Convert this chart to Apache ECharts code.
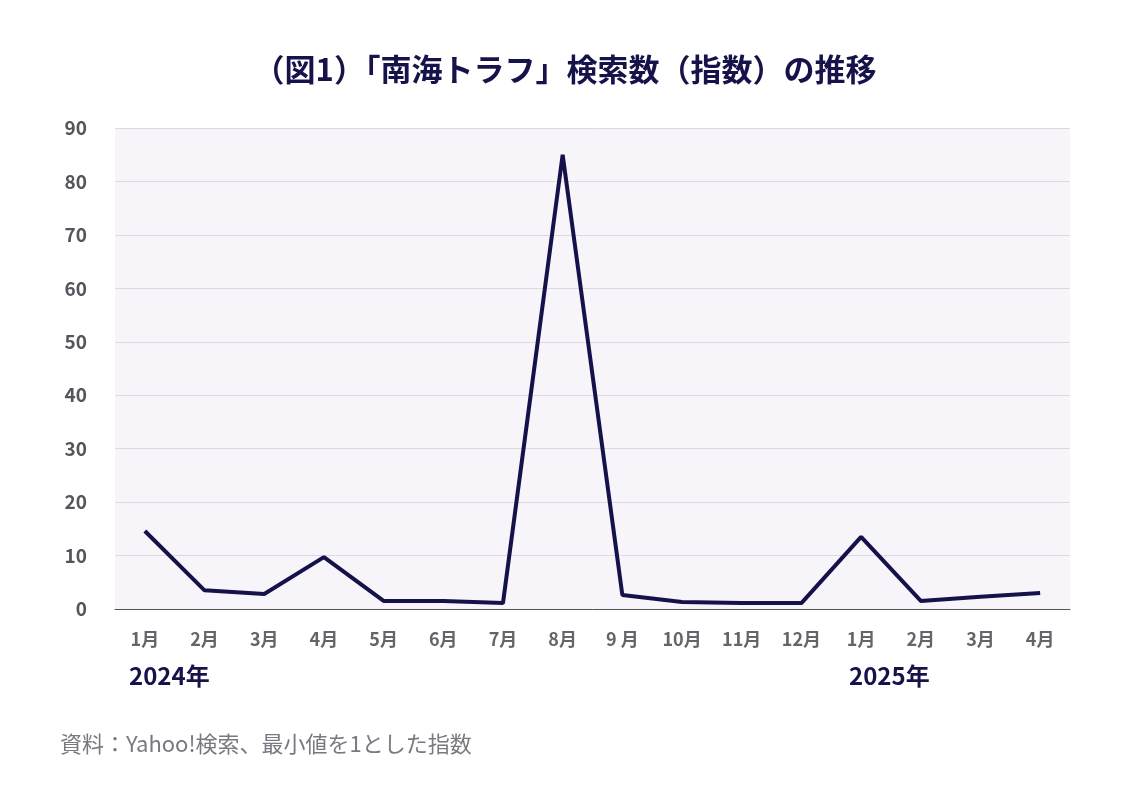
<!DOCTYPE html>
<html>
<head>
<meta charset="utf-8">
<script src="https://cdn.jsdelivr.net/npm/echarts@6/dist/echarts.min.js"></script>
<style>
html, body { margin: 0; padding: 0; background: #fff; }
#main { width: 1130px; height: 800px; }
</style>
</head>
<body>
<div id="main"></div>
<script>
// 月ラベル（2024年1月〜2025年4月）
var months = ['1月', '2月', '3月', '4月', '5月', '6月', '7月', '8月', '9 月', '10月', '11月', '12月', '1月', '2月', '3月', '4月'];
// 検索数（指数）
var searchIndex = [14.6, 3.5, 2.8, 9.7, 1.5, 1.5, 1.1, 85, 2.6, 1.3, 1.1, 1.1, 13.5, 1.5, 2.3, 3.0];
var yearLabels = ['2024年', '2025年'];

var chart = echarts.init(document.getElementById('main'));
var font = '"Noto Sans CJK JP", "Noto Sans", sans-serif';

var option = {
	backgroundColor: '#ffffff',
	animation: false,
	title: {
		text: '（図1）「南海トラフ」検索数（指数）の推移',
		left: 'center',
		top: 49,
		textStyle: {
			fontFamily: font,
			fontSize: 31,
			fontWeight: 'bold',
			color: '#16134a'
		}
	},
	grid: {
		left: 115,
		right: 60,
		top: 128,
		bottom: 191,
		show: true,
		backgroundColor: '#f7f5fa',
		borderWidth: 0
	},
	xAxis: {
		type: 'category',
		data: months,
		boundaryGap: true,
		axisTick: { show: false },
		axisLine: {
			lineStyle: { color: '#555555', width: 1 }
		},
		axisLabel: {
			margin: 21,
			interval: 0,
			fontFamily: font,
			fontSize: 18,
			fontWeight: 'bold',
			color: '#66646b'
		}
	},
	yAxis: {
		type: 'value',
		min: 0,
		max: 90,
		interval: 10,
		axisLine: { show: false },
		axisTick: { show: false },
		splitLine: {
			lineStyle: { color: '#dcdae0', width: 1 }
		},
		axisLabel: {
			margin: 28,
			align: 'right',
			fontFamily: font,
			fontSize: 19,
			fontWeight: 'bold',
			color: '#57555c'
		}
	},
	series: [{
		name: '検索数',
		type: 'line',
		data: searchIndex,
		symbol: 'none',
		lineStyle: {
			color: '#15124a',
			width: 4
		}
	}],
	graphic: [{
		type: 'text',
		left: 129,
		top: 664,
		style: {
			text: yearLabels[0],
			font: 'bold 24px ' + font,
			fill: '#16134a'
		}
	}, {
		type: 'text',
		left: 849,
		top: 664,
		style: {
			text: yearLabels[1],
			font: 'bold 24px ' + font,
			fill: '#16134a'
		}
	}, {
		type: 'text',
		left: 60,
		top: 733,
		style: {
			text: '資料：Yahoo!検索、最小値を1とした指数',
			font: '22px ' + font,
			fill: '#7a7880'
		}
	}]
};
chart.setOption(option, true);
</script>
</body>
</html>
